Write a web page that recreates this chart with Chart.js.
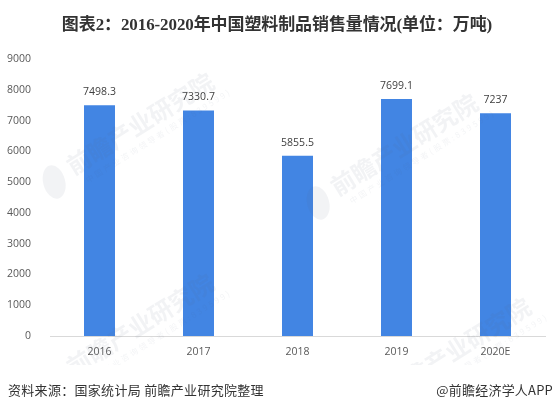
<!DOCTYPE html>
<html>
<head>
<meta charset="utf-8">
<script src="https://cdn.jsdelivr.net/npm/chart.js@4"></script>
<style>
html, body { margin: 0; padding: 0; background: #fff; }
#wrap { position: relative; width: 554px; height: 405px; overflow: hidden; }
#chart { position: absolute; left: 0; top: 0; }
.txt { position: absolute; white-space: nowrap; }
#title { left: 0; width: 554px; top: 10px; text-align: center; font: bold 17px "Liberation Serif", "Noto Sans CJK SC", serif; color: #333; letter-spacing: -0.1px; }
#source { left: 8px; top: 381px; font: 13px "Noto Sans CJK SC", sans-serif; line-height: 18px; color: #333; letter-spacing: 0.3px; }
#brand { right: 1px; top: 381px; font: 13px "Noto Sans CJK SC", sans-serif; line-height: 18px; color: #333; letter-spacing: 0.2px; }
</style>
</head>
<body>
<div id="wrap">
  <canvas id="chart" width="554" height="405"></canvas>
  <div class="txt" id="title">图表2：2016-2020年中国塑料制品销售量情况(单位：万吨)</div>
  <div class="txt" id="source">资料来源：国家统计局 前瞻产业研究院整理</div>
  <div class="txt" id="brand">@前瞻经济学人APP</div>
</div>
<script>
const categories = ['2016', '2017', '2018', '2019', '2020E'];
const salesValues = [7498.3, 7330.7, 5855.5, 7699.1, 7237];
const tickFont = { family: '"Open Sans", sans-serif', size: 10.5 };

// faint diagonal stamp over the plot, same as the source image
function drawStamp(ctx, x, y) {
    ctx.save();
    ctx.translate(x, y);
    ctx.rotate(-32 * Math.PI / 180);
    ctx.fillStyle = 'rgba(90, 100, 125, 0.08)';
    ctx.textBaseline = 'middle';
    ctx.font = 'bold 24px "Noto Sans CJK SC", sans-serif';
    ctx.letterSpacing = '0px';
    ctx.fillText('前瞻产业研究院', 0, 0);
    ctx.font = '8px "Noto Sans CJK SC", sans-serif';
    ctx.letterSpacing = '2.4px';
    ctx.fillStyle = 'rgba(90, 100, 125, 0.07)';
    ctx.fillText('中国产业咨询领导者(股票:839599)', 8, 20);
    ctx.beginPath();
    ctx.ellipse(-20, 4, 11, 17, 0.3, 0, Math.PI * 2);
    ctx.fillStyle = 'rgba(90, 100, 125, 0.08)';
    ctx.fill();
    ctx.restore();
}

const stampPlugin = {
    id: 'stamp',
    afterDatasetsDraw(chart) {
        const ctx = chart.ctx;
        ctx.save();
        ctx.beginPath();
        ctx.rect(0, 0, 554, 365);
        ctx.clip();
        drawStamp(ctx, 69, 168);
        drawStamp(ctx, 333, 189);
        drawStamp(ctx, 69, 369);
        drawStamp(ctx, 386, 393);
        ctx.restore();
    }
};

const valueLabels = {
    id: 'valueLabels',
    afterDatasetsDraw(chart) {
        const ctx = chart.ctx;
        const bars = chart.getDatasetMeta(0).data;
        ctx.save();
        ctx.font = '10.5px "Open Sans", sans-serif';
        ctx.fillStyle = '#404040';
        ctx.textAlign = 'center';
        ctx.textBaseline = 'middle';
        bars.forEach(function(bar, i) {
            ctx.fillText(String(salesValues[i]), bar.x, bar.y - 13);
        });
        ctx.restore();
    }
};

new Chart(document.getElementById('chart').getContext('2d'), {
    type: 'bar',
    data: {
        labels: categories,
        datasets: [{
            data: salesValues,
            backgroundColor: '#4285e3',
            categoryPercentage: 1,
            barPercentage: 0.313
        }]
    },
    options: {
        responsive: false,
        animation: false,
        devicePixelRatio: 1,
        layout: { padding: { top: 59, right: 9, bottom: 39, left: 0 } },
        plugins: { legend: { display: false }, tooltip: { enabled: false } },
        scales: {
            x: {
                afterFit(scale) { scale.height = 30; },
                grid: { display: false },
                border: { display: true, color: '#d9d9d9', width: 1 },
                ticks: { color: '#595959', font: tickFont, padding: 2, maxRotation: 0 }
            },
            y: {
                min: 0,
                max: 9000,
                afterFit(scale) { scale.width = 50; },
                grid: { display: false },
                border: { display: false },
                ticks: {
                    stepSize: 1000,
                    color: '#595959',
                    font: tickFont,
                    padding: 11,
                    callback: function(value) { return String(value); }
                }
            }
        }
    },
    plugins: [valueLabels, stampPlugin]
});
</script>
</body>
</html>
